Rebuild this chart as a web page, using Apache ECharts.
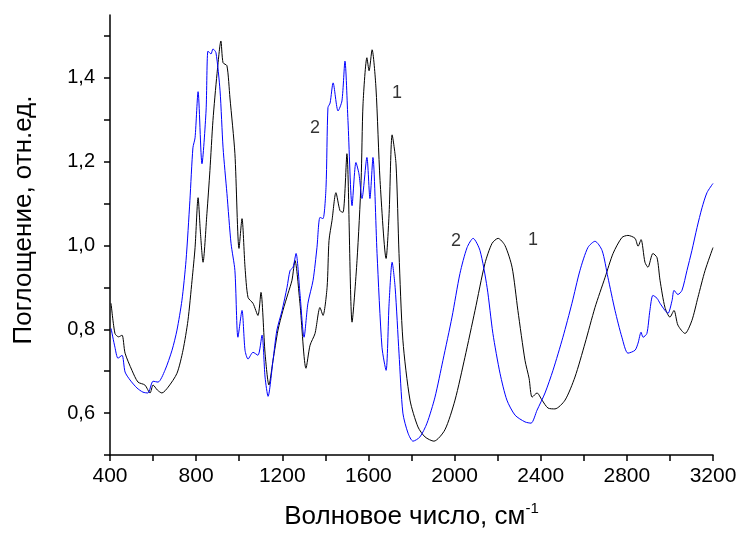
<!DOCTYPE html>
<html>
<head>
<meta charset="utf-8">
<script src="https://cdn.jsdelivr.net/npm/echarts@6/dist/echarts.min.js"></script>
<style>
html,body{margin:0;padding:0;background:#fff;}
#chart{width:740px;height:537px;}
</style>
</head>
<body>
<div id="chart"></div>
<script>
// Curve 1 (black)
const curve1X = [405,423,440,456,470,502,530,562,586,600,620,641,670,711,739,762,781,795,809,820,832,850,864,878,897,915,925,943,957,980,999,1013,1027,1041,1064,1087,1101,1120,1138,1157,1180,1203,1227,1245,1259,1282,1310,1329,1352,1375,1389,1408,1417,1431,1449,1468,1482,1500,1524,1547,1566,1575,1593,1603,1617,1635,1654,1682,1696,1710,1728,1742,1760,1793,1830,1863,1904,1955,2002,2048,2095,2141,2174,2202,2234,2267,2294,2327,2346,2360,2383,2406,2434,2466,2513,2559,2606,2652,2699,2736,2777,2805,2838,2852,2866,2884,2898,2921,2940,2954,2977,3000,3019,3037,3070,3102,3130,3163,3200];
const curve1Y = [0.862,0.790,0.782,0.786,0.743,0.702,0.674,0.667,0.648,0.667,0.655,0.648,0.662,0.695,0.750,0.821,0.917,0.995,1.114,1.030,0.960,1.076,1.179,1.298,1.410,1.488,1.436,1.429,1.352,1.219,0.993,1.064,0.948,0.876,0.862,0.833,0.888,0.743,0.667,0.726,0.798,0.845,0.886,0.917,0.964,0.862,0.707,0.762,0.790,0.852,0.833,0.900,1.012,1.060,1.126,1.083,1.079,1.219,0.817,0.964,1.155,1.338,1.448,1.417,1.467,1.376,1.155,0.969,1.076,1.264,1.195,0.981,0.774,0.631,0.567,0.543,0.533,0.560,0.631,0.733,0.845,0.957,1.005,1.017,1.000,0.948,0.845,0.726,0.683,0.638,0.648,0.631,0.612,0.610,0.631,0.686,0.767,0.852,0.924,0.981,1.019,1.024,1.017,0.998,1.014,0.960,0.948,0.981,0.971,0.917,0.852,0.829,0.845,0.810,0.790,0.821,0.876,0.940,0.995];
// Curve 2 (blue)
const curve2X = [405,423,437,456,470,493,525,553,576,600,623,655,688,711,734,753,771,785,795,809,827,846,855,869,878,892,911,925,943,962,980,994,1013,1027,1041,1064,1087,1106,1120,1134,1157,1175,1199,1222,1236,1250,1264,1282,1301,1319,1343,1361,1375,1389,1403,1412,1422,1436,1459,1477,1491,1505,1524,1542,1556,1570,1593,1607,1621,1640,1663,1682,1696,1710,1724,1742,1760,1784,1807,1839,1872,1909,1946,1988,2025,2058,2086,2118,2151,2178,2211,2243,2281,2327,2355,2383,2420,2457,2503,2545,2582,2619,2652,2685,2712,2745,2777,2805,2838,2852,2866,2875,2893,2907,2921,2940,2954,2977,2991,3010,3019,3037,3056,3079,3102,3126,3149,3172,3200];
const curve2Y = [0.802,0.757,0.731,0.738,0.698,0.679,0.660,0.650,0.648,0.676,0.674,0.702,0.750,0.798,0.869,0.964,1.107,1.233,1.257,1.367,1.195,1.321,1.464,1.457,1.469,1.460,1.369,1.233,1.124,1.005,0.940,0.781,0.845,0.750,0.729,0.745,0.738,0.786,0.686,0.640,0.726,0.798,0.845,0.900,0.940,0.948,0.981,0.886,0.781,0.862,0.917,0.995,1.067,1.064,1.138,1.329,1.340,1.388,1.321,1.345,1.440,1.298,1.095,1.198,1.171,1.112,1.210,1.112,1.210,0.981,0.757,0.702,0.862,0.960,0.900,0.743,0.600,0.552,0.533,0.543,0.576,0.638,0.726,0.829,0.933,0.995,1.017,0.988,0.900,0.790,0.695,0.631,0.595,0.579,0.576,0.607,0.648,0.702,0.781,0.862,0.940,0.995,1.010,0.988,0.924,0.845,0.781,0.743,0.750,0.767,0.793,0.781,0.790,0.845,0.881,0.874,0.862,0.845,0.838,0.869,0.893,0.883,0.893,0.940,0.988,1.043,1.090,1.126,1.148];
// Curve annotations
const labelX = [1352, 1733, 2007, 2364];
const labelY = [1.281, 1.364, 1.010, 1.012];
const labelText = ['2', '1', '2', '1'];

const zip = (xs, ys) => xs.map((x, i) => [x, ys[i]]);
const labelData = labelX.map((x, i) => [x, labelY[i], labelText[i]]);

const chart = echarts.init(document.getElementById('chart'), null, {renderer: 'canvas'});
const font = 'Liberation Sans, Arial, sans-serif';
chart.setOption({
  animation: false,
  backgroundColor: '#fff',
  grid: {left: 110, right: 27, top: 15, bottom: 82, containLabel: false},
  xAxis: {
    type: 'value', min: 400, max: 3200, interval: 200,
    name: 'Волновое число, см{sup|-1}',
    nameLocation: 'middle', nameGap: 46,
    nameTextStyle: {fontFamily: font, fontSize: 26, color: '#000',
      rich: {sup: {fontFamily: font, fontSize: 15, color: '#000', padding: [0, 0, 16, 0]}}},
    axisLine: {show: true, onZero: false, lineStyle: {color: '#000', width: 1.5}},
    axisTick: {show: true, inside: false, length: 6, lineStyle: {color: '#000', width: 1.5}},
    axisLabel: {fontFamily: font, fontSize: 21, color: '#000', margin: 11,
      formatter: v => (v % 400 === 0 ? String(v) : '')},
    splitLine: {show: false}
  },
  yAxis: {
    type: 'value', min: 0.5, max: 1.55, interval: 0.1,
    name: 'Поглощение, отн.ед.',
    nameLocation: 'middle', nameGap: 73,
    nameTextStyle: {fontFamily: font, fontSize: 26, color: '#000', padding: [0, 0, 0, 30]},
    axisLine: {show: true, onZero: false, lineStyle: {color: '#000', width: 1.5}},
    axisTick: {show: true, inside: false, length: 6, lineStyle: {color: '#000', width: 1.5}},
    axisLabel: {fontFamily: font, fontSize: 20, color: '#000', margin: 15,
      showMaxLabel: false,
      formatter: v => {
        const k = Math.round(v * 10);
        return (k % 2 === 0 && k >= 6 && k <= 14) ? (k / 10).toFixed(1).replace('.', ',') : '';
      }},
    splitLine: {show: false}
  },
  series: [
    {type: 'line', name: '1', data: zip(curve1X, curve1Y), showSymbol: false, smooth: 0.25,
     lineStyle: {color: '#000', width: 1}, itemStyle: {color: '#000'}, z: 2},
    {type: 'line', name: '2', data: zip(curve2X, curve2Y), showSymbol: false, smooth: 0.25,
     lineStyle: {color: '#0000ff', width: 1}, itemStyle: {color: '#0000ff'}, z: 3},
    {type: 'scatter', data: labelData, symbolSize: 0, silent: true, z: 4,
     label: {show: true, position: 'inside', formatter: p => p.value[2],
       fontFamily: font, fontSize: 18, color: '#000'}}
  ]
});
</script>
</body>
</html>
